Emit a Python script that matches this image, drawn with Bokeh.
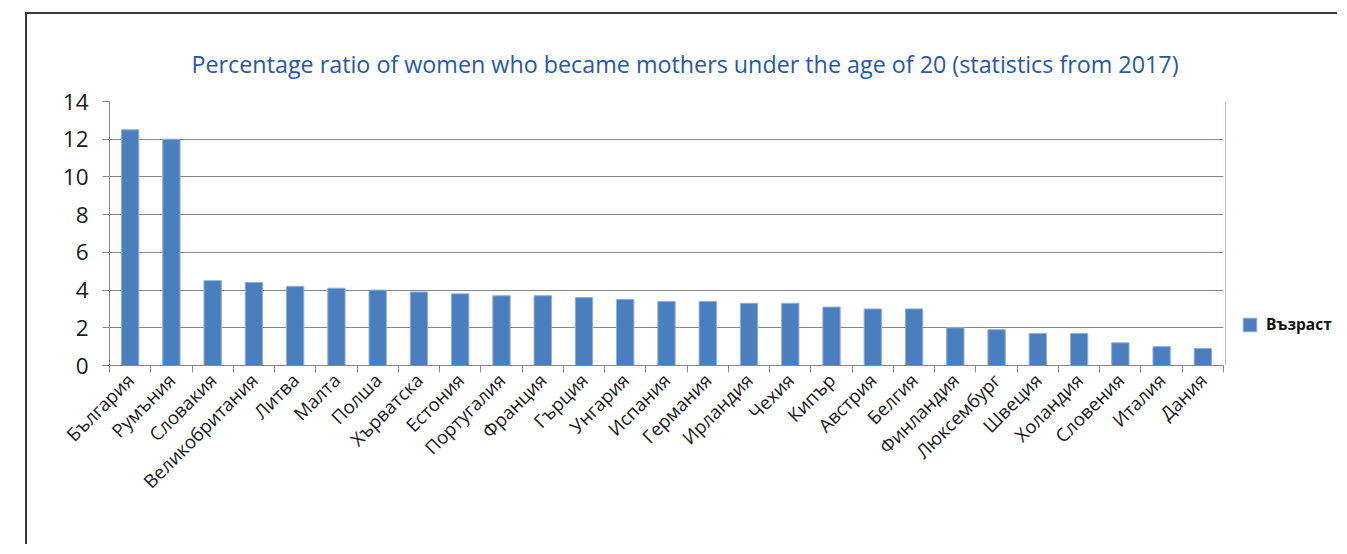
import math
from bokeh.plotting import figure
from bokeh.layouts import row
from bokeh.models import Range1d, FixedTicker, Legend, LegendItem, ColumnDataSource, Title
from bokeh.embed import file_html
from bokeh.resources import INLINE

categories = ["България", "Румъния", "Словакия", "Великобритания", "Литва", "Малта", "Полша",
              "Хърватска", "Естония", "Португалия", "Франция", "Гърция", "Унгария", "Испания",
              "Германия", "Ирландия", "Чехия", "Кипър", "Австрия", "Белгия", "Финландия",
              "Люксембург", "Швеция", "Холандия", "Словения", "Италия", "Дания"]
values = [12.5, 12.0, 4.5, 4.4, 4.2, 4.1, 4.0, 3.9, 3.8, 3.7, 3.7, 3.6, 3.5, 3.4, 3.4, 3.3,
          3.3, 3.1, 3.0, 3.0, 2.0, 1.9, 1.7, 1.7, 1.2, 1.0, 0.9]
y_ticks = [0, 2, 4, 6, 8, 10, 12, 14]
series_name = "Възраст"
title_text = "Percentage ratio of women who became mothers under the age of 20 (statistics from 2017)"

n = len(categories)
xs = list(range(1, n + 1))
src = ColumnDataSource(dict(x=xs, top=values, name=categories))

FONT = "Open Sans"
GRID = "#888888"
BAR_FILL = "#4a7ebd"
BAR_LINE = "#8fb0da"

p = figure(width=1198, height=530, output_backend="svg", toolbar_location=None,
           x_range=Range1d(0.5, n + 0.5), y_range=Range1d(0, 14),
           min_border_left=82, min_border_right=2, min_border_top=87, min_border_bottom=179)

p.title = Title(text=title_text, text_font=FONT, text_font_size="23.3px", text_font_style="normal",
                text_color="#2559a8", align="left", offset=82, standoff=43)

r = p.vbar(x="x", top="top", width=0.42, source=src, fill_color=BAR_FILL,
           line_color=BAR_LINE, line_width=1)

p.outline_line_color = None
p.xgrid.grid_line_color = None
p.ygrid.grid_line_color = GRID
p.ygrid.grid_line_width = 1
p.ygrid.ticker = FixedTicker(ticks=y_ticks)

# y axis
p.yaxis.ticker = FixedTicker(ticks=y_ticks)
p.yaxis.axis_line_color = GRID
p.yaxis.major_tick_line_color = GRID
p.yaxis.major_tick_out = 7
p.yaxis.major_tick_in = 0
p.yaxis.minor_tick_line_color = None
p.yaxis.major_label_text_font = FONT
p.yaxis.major_label_text_font_size = "22.5px"
p.yaxis.major_label_text_color = "#1a1a1a"
p.yaxis.major_label_standoff = 14

# x axis: labels at centres, tick marks at boundaries
p.xaxis.ticker = FixedTicker(ticks=xs, minor_ticks=[i + 0.5 for i in range(0, n + 1)])
p.xaxis.major_label_overrides = {x: c for x, c in zip(xs, categories)}
p.xaxis.major_label_orientation = math.pi / 4
p.xaxis.major_label_text_font = FONT
p.xaxis.major_label_text_font_size = "18.5px"
p.xaxis.major_label_text_color = "#1a1a1a"
p.xaxis.major_label_standoff = 4
p.xaxis.major_tick_line_color = None
p.xaxis.minor_tick_line_color = GRID
p.xaxis.minor_tick_out = 7
p.xaxis.minor_tick_in = 0
p.xaxis.axis_line_color = GRID

# legend panel (separate small canvas to the right of the plot area)
lp = figure(width=112, height=530, output_backend="svg", toolbar_location=None,
            x_range=Range1d(0, 1), y_range=Range1d(0, 1),
            x_axis_type=None, y_axis_type=None,
            min_border_left=0, min_border_right=0, min_border_top=0, min_border_bottom=0)
lp.outline_line_color = None
lp.xgrid.grid_line_color = None
lp.ygrid.grid_line_color = None
# legend proxy: a single bar placed outside the visible range of this small canvas
proxy_src = ColumnDataSource(dict(x=[-5], top=[values[0]]))
dummy = lp.vbar(x="x", top="top", width=0.5, source=proxy_src,
                fill_color=BAR_FILL, line_color=BAR_LINE, line_width=1)

legend = Legend(items=[LegendItem(label=series_name, renderers=[dummy])],
                location=(16, 30), orientation="vertical",
                glyph_width=17, glyph_height=17, label_standoff=8,
                padding=0, margin=0, spacing=0,
                label_text_font=FONT, label_text_font_size="15.5px",
                label_text_font_style="bold", label_text_color="#111111",
                border_line_color=None, background_fill_alpha=0)
lp.add_layout(legend)

layout = row(p, lp)
layout.margin = (12, 0, 0, 25)
layout.styles = {"border-left": "2px solid #3a3a3a", "border-top": "2px solid #3a3a3a"}

open("out.html", "w").write(file_html(layout, INLINE))
